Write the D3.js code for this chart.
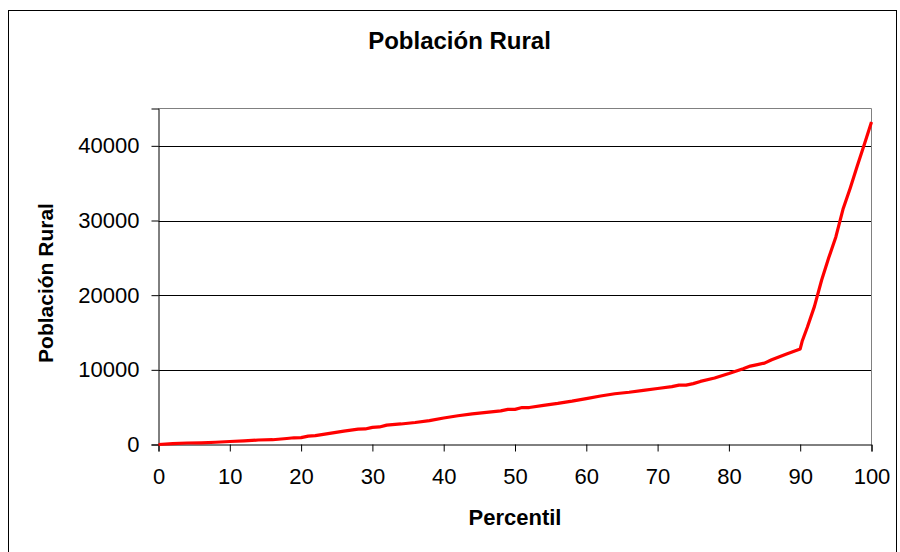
<!DOCTYPE html>
<html><head><meta charset="utf-8">
<script src="https://cdn.jsdelivr.net/npm/d3@7"></script>
<style>body{margin:0;background:#fff}svg{display:block}</style>
</head><body>
<script>
const percentiles = [0,2,4,6,8,10,12,14,16,18,19,20,21,22,24,26,28,29,30,31,32,34,36,38,40,42,44,46,48,49,50,51,52,54,56,58,60,62,64,66,68,70,72,73,74,75,76,78,80,82,83,84,85,86,88,90,90.3,91,92,93,94,95,96,97,98,99,100];
const poblacion = [0,130,200,230,300,400,480,600,640,800,900,920,1130,1180,1500,1800,2050,2080,2300,2350,2600,2750,2950,3200,3550,3850,4100,4300,4500,4700,4700,4950,4950,5250,5500,5800,6150,6500,6800,7000,7250,7500,7750,7950,7950,8150,8450,8900,9500,10150,10500,10700,10900,11350,12100,12800,13900,15700,18500,22000,25000,27800,31500,34300,37300,40200,43200];
const xTicks = [0,10,20,30,40,50,60,70,80,90,100];
const yTicks = [0,10000,20000,30000,40000];
const title = "Población Rural";
const xTitle = "Percentil";
const yTitle = "Población Rural";

const W = 900, H = 552;
const svg = d3.select("body").append("svg").attr("width", W).attr("height", H);
const font = "Arial, 'Liberation Sans', sans-serif";

svg.append("rect").attr("x", 8.5).attr("y", 10.5).attr("width", 888).attr("height", 560)
  .attr("fill", "#fff").attr("stroke", "#000").attr("stroke-width", 1);

const L = 158.5, R = 871.5, T = 108.5, B = 444.5;
const x = d3.scaleLinear().domain([0, 100]).range([L, R]);
const y = d3.scaleLinear().domain([0, 45000]).range([B, T]);

// grid lines
svg.append("g").selectAll("line").data(yTicks.filter(d => d > 0)).join("line")
  .attr("x1", L).attr("x2", R).attr("y1", d => Math.round(y(d)) + 0.5).attr("y2", d => Math.round(y(d)) + 0.5)
  .attr("stroke", "#000").attr("stroke-width", 1);

// plot frame top/right
svg.append("path").attr("d", `M${L},${T}H${R}V${B}`).attr("fill", "none").attr("stroke", "#808080").attr("stroke-width", 1);

// axes
const xAxis = d3.axisBottom(x).tickValues(xTicks).tickSize(7).tickPadding(17).tickFormat(d3.format("d"));
const gx = svg.append("g").attr("transform", `translate(0,${B})`).call(xAxis);
const yAxis = d3.axisLeft(y).tickValues(yTicks).tickSize(7).tickPadding(12).tickFormat(d3.format("d"));
const gy = svg.append("g").attr("transform", `translate(${L},0)`).call(yAxis);
[gx, gy].forEach(g => {
  g.select(".domain").attr("stroke", "#000");
  g.selectAll(".tick line").attr("stroke", "#000");
  g.selectAll("text").attr("font-family", font).attr("font-size", 22).attr("fill", "#000");
});

// line
svg.append("path").datum(percentiles.map((p, i) => [p, poblacion[i]]))
  .attr("fill", "none").attr("stroke", "#ff0000").attr("stroke-width", 3.2).attr("stroke-linejoin", "round")
  .attr("d", d3.line().x(d => x(d[0])).y(d => y(d[1])));

// titles
svg.append("text").attr("x", 459.5).attr("y", 49).attr("text-anchor", "middle")
  .attr("font-family", font).attr("font-weight", "bold").attr("font-size", 24).text(title);
svg.append("text").attr("x", 515).attr("y", 525).attr("text-anchor", "middle")
  .attr("font-family", font).attr("font-weight", "bold").attr("font-size", 22).text(xTitle);
svg.append("text").attr("transform", "translate(53,283) rotate(-90)").attr("text-anchor", "middle")
  .attr("font-family", font).attr("font-weight", "bold").attr("font-size", 21).text(yTitle);
</script>
</body></html>
